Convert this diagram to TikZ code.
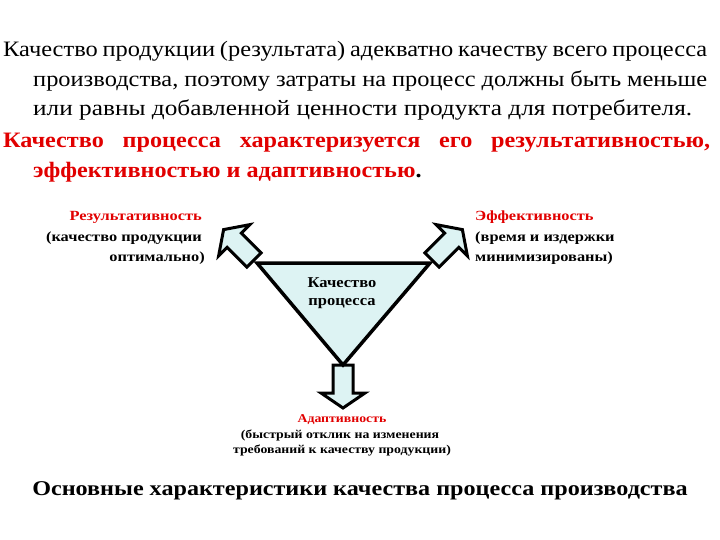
\documentclass[tikz,border=0pt]{standalone}
\usepackage{fontspec}
\setmainfont{Liberation Serif}
\newfontfamily\widerm[FakeStretch=1.15]{Liberation Serif}
\newfontfamily\tightrm[FakeStretch=1.11]{Liberation Serif}
\newfontfamily\widebf[FakeStretch=1.10]{Liberation Serif}
\newfontfamily\widelbl[FakeStretch=1.17]{Liberation Serif}
\definecolor{hlred}{RGB}{225,0,0}
\definecolor{paleblue}{RGB}{221,243,243}
% outline arrow: tail at #1, pointing at angle #2
\newcommand{\fatarrow}[2]{%
  \draw[arrow body, shift={#1}, rotate=#2]
    (0,-10) -- (28,-10) -- (28,-22) -- (43,0) -- (28,22) -- (28,10) -- (0,10) -- cycle;}

\begin{document}
\begin{tikzpicture}[x=1pt, y=-1pt]
    \tikzset{
        arrow body/.style={draw=black, fill=paleblue, line width=3pt, line join=miter},
        big text/.style={anchor=base west, inner sep=0pt, font=\widerm\fontsize{22}{26}\selectfont},
        side label/.style={inner sep=0pt, font=\widelbl\bfseries\fontsize{14}{16}\selectfont},
        foot label/.style={inner sep=0pt, anchor=base, font=\widerm\bfseries\fontsize{12}{14}\selectfont},
    }
    \useasboundingbox (0,0) rectangle (720,540);

    % heading text
    \node[big text, font=\tightrm\fontsize{22}{26}\selectfont] (l1) at (3,57)
        {\makebox[704pt][s]{Качество продукции (результата) адекватно качеству всего процесса}};
    \node[big text, font=\tightrm\fontsize{22}{26}\selectfont] (l2) at (33,87)
        {\makebox[674pt][s]{производства, поэтому затраты на процесс должны быть меньше}};
    \node[big text] (l3) at (33,116) {или равны добавленной ценности продукта для потребителя.};
    \node[big text, text=hlred, font=\widebf\bfseries\fontsize{22}{26}\selectfont] (l4) at (3,148)
        {\makebox[707pt][s]{Качество процесса характеризуется его результативностью,}};
    \node[big text, font=\widebf\bfseries\fontsize{22}{26}\selectfont] (l5) at (33,178)
        {\textcolor{hlred}{эффективностью и адаптивностью}.};

    % the three arrows, then the triangle over their tails
    \coordinate (tl) at (257,263);
    \coordinate (tr) at (430,263);
    \coordinate (bt) at (343,365);
    \fatarrow{(254,260)}{135}
    \fatarrow{(432,260)}{45}
    \fatarrow{(343,365)}{-90}
    \draw[arrow body, line width=3.5pt] (tl) -- (tr) -- (bt) -- cycle;

    \node[anchor=base, inner sep=0pt, font=\widebf\bfseries\fontsize{15}{17}\selectfont] (q1) at (342,287) {Качество};
    \node[anchor=base, inner sep=0pt, font=\widebf\bfseries\fontsize{15}{17}\selectfont] (q2) at (342,305) {процесса};

    % left
    \node[side label, anchor=base east, text=hlred] (r1) at (202,221) {Результативность};
    \node[side label, anchor=base east] (r2) at (202,241) {(качество продукции};
    \node[side label, anchor=base east] (r3) at (205,261) {оптимально)};
    % right
    \node[side label, anchor=base west, text=hlred] (e1) at (475,221) {Эффективность};
    \node[side label, anchor=base west] (e2) at (475,241) {(время и издержки};
    \node[side label, anchor=base west] (e3) at (475,261) {минимизированы)};
    % bottom
    \node[foot label, text=hlred] (a1) at (342,422) {Адаптивность};
    \node[foot label] (a2) at (340,438) {(быстрый отклик на изменения};
    \node[foot label] (a3) at (342,453) {требований к качеству продукции)};

    \node[anchor=base, inner sep=0pt, font=\widerm\bfseries\fontsize{21}{25}\selectfont] (title) at (360,495)
        {Основные характеристики качества процесса производства};
\end{tikzpicture}
\end{document}
